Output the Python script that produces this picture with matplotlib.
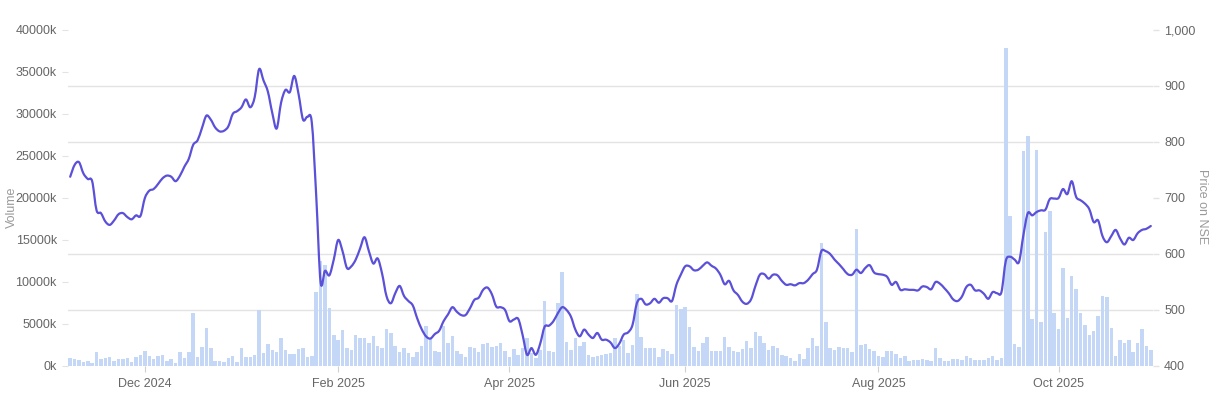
import numpy as np
import pandas as pd
import matplotlib
matplotlib.use("Agg")
import matplotlib.pyplot as plt
from matplotlib.ticker import FixedLocator
from matplotlib.path import Path
from matplotlib.patches import PathPatch

plt.rcParams["font.family"] = ["Liberation Sans", "DejaVu Sans"]

# NSE trading days (weekdays minus exchange holidays, plus the Budget-day Saturday session)
holidays = ["2024-11-15", "2024-11-20", "2024-12-25", "2025-02-26", "2025-03-14",
            "2025-03-31", "2025-04-10", "2025-04-14", "2025-04-18", "2025-05-01",
            "2025-08-15", "2025-08-27", "2025-10-02", "2025-10-22"]
special_sessions = ["2025-02-01"]

# daily volume, thousands of shares
volume = [
    900, 880, 700, 450, 550, 350, 1630, 830, 910, 1110,
    630, 790, 830, 910, 440, 1110, 1350, 1830, 1230, 830,
    1190, 1310, 550, 870, 320, 1710, 950, 1630, 6270, 1110,
    2220, 4480, 2100, 630, 630, 520, 950, 1190, 480, 2100,
    1030, 1110, 1310, 6670, 1550, 2580, 1950, 1630, 3300, 1900,
    1390, 1390, 1980, 2100, 1070, 1190, 8850, 12500, 12000, 6950,
    3700, 3100, 4290, 2100, 1900, 3700, 3300, 3370, 2700, 3570,
    2420, 2100, 4370, 3970, 2420, 1700, 2180, 1500, 1110, 1700,
    2420, 4760, 3300, 1790, 1700, 4760, 2700, 3570, 1790, 1390,
    1030, 2220, 2180, 1630, 2580, 2780, 2220, 2420, 2700, 1790,
    1110, 2020, 1310, 2100, 3300, 1500, 990, 1900, 7740, 1830,
    1700, 7460, 11230, 2820, 1900, 3370, 2420, 2900, 1310, 1110,
    1190, 1310, 1430, 1500, 3370, 2420, 3100, 1590, 2500, 8530,
    3410, 2180, 2100, 2100, 1110, 2020, 1790, 1430, 7260, 6750,
    6990, 4680, 2220, 1830, 2700, 3410, 1790, 1790, 1790, 3500,
    2220, 1830, 1670, 2020, 3020, 2180, 4090, 3530, 2780, 1900,
    2420, 2100, 1310, 1230, 990, 600, 1390, 830, 2180, 3370,
    2420, 14600, 5200, 2100, 1900, 2300, 2180, 2100, 1630, 16300,
    2500, 2580, 1980, 1790, 1230, 1110, 1790, 1790, 1390, 910,
    1230, 600, 710, 710, 790, 710, 600, 2100, 910, 640,
    640, 790, 830, 750, 1190, 910, 750, 710, 710, 910,
    1190, 710, 910, 37900, 17900, 2580, 2300, 25600, 27400, 5560,
    25700, 5280, 15900, 18400, 6270, 4370, 11630, 5760, 10760, 9130,
    6270, 4880, 3690, 4200, 5950, 8370, 8170, 4490, 1190, 3100,
    2780, 3100, 1630, 2700, 4370, 2420, 1900,
]

# closing price on NSE
price = [
    738, 759, 764, 744, 734, 730, 678, 673, 658, 652,
    660, 671, 673, 666, 662, 669, 668, 700, 713, 716,
    725, 735, 740, 738, 730, 740, 756, 770, 795, 803,
    825, 847, 840, 826, 819, 820, 828, 850, 855, 862,
    876, 862, 880, 930, 910, 890, 852, 824, 870, 893,
    889, 918, 885, 840, 845, 835, 705, 550, 570, 562,
    590, 625, 605, 575, 578, 590, 610, 630, 605, 583,
    592, 565, 525, 512, 530, 543, 525, 516, 508, 485,
    466, 453, 449, 457, 463, 480, 492, 505, 497, 491,
    491, 503, 518, 522, 536, 540, 528, 506, 505, 500,
    480, 483, 484, 455, 420, 432, 420, 440, 470, 472,
    480, 494, 505, 500, 488, 465, 453, 465, 456, 450,
    459, 447, 447, 442, 432, 440, 456, 460, 473, 512,
    520, 510, 512, 520, 513, 521, 521, 516, 545, 563,
    578, 578, 571, 572, 579, 585, 579, 574, 563, 546,
    552, 535, 527, 515, 511, 519, 543, 563, 564, 556,
    563, 562, 552, 545, 546, 544, 548, 548, 554, 564,
    572, 605, 605, 600, 590, 582, 573, 564, 563, 572,
    566, 575, 580, 567, 564, 563, 559, 545, 550, 536,
    537, 536, 536, 535, 542, 541, 537, 550, 547, 539,
    530, 519, 516, 524, 541, 545, 535, 535, 529, 520,
    532, 530, 532, 588, 595, 590, 586, 634, 673, 669,
    675, 678, 679, 698, 699, 700, 716, 707, 730, 702,
    696, 690, 680, 657, 660, 632, 621, 632, 643, 628,
    617, 629, 625, 637, 643, 645, 650,
]

vol_ticks = list(range(0, 40001, 5000))
price_ticks = list(range(400, 1001, 100))
tick_months = ["2024-12", "2025-02", "2025-04", "2025-06", "2025-08", "2025-10"]


def smooth_path(x, y):
    # catmull-rom through every point, drawn as cubic bezier segments
    pts = np.column_stack([x, y]).astype(float)
    ext = np.vstack([pts[0], pts, pts[-1]])
    verts = [pts[0]]
    codes = [Path.MOVETO]
    for i in range(len(pts) - 1):
        p0, p1, p2, p3 = ext[i], ext[i + 1], ext[i + 2], ext[i + 3]
        verts += [p1 + (p2 - p0) / 6, p2 - (p3 - p1) / 6, p2]
        codes += [Path.CURVE4] * 3
    return Path(verts, codes)


dates = pd.bdate_range("2024-11-05", "2025-11-03", freq="C", holidays=holidays)
dates = dates.union(pd.to_datetime(special_sessions))
n = min(len(dates), len(volume), len(price))
dates = dates[:n]
idx = np.arange(n)

GREY_TXT = "#666666"
GREY_LBL = "#9a9a9a"
GRID = "#e3e3e3"

fig = plt.figure(figsize=(12.13, 3.95), dpi=100)
ax = fig.add_axes([68 / 1213, 29 / 395, 1085 / 1213, 336 / 395])

ax.bar(idx, volume[:n], width=0.8, color="#c4d7f7", zorder=2)
ax.set_xlim(-0.5, n - 0.5)
ax.set_ylim(0, 40000)
ax.set_yticks(vol_ticks)
ax.set_yticklabels([f"{v}k" for v in vol_ticks])

# horizontal grid follows the price axis
vmin, vmax = price_ticks[0], price_ticks[-1]
ax.yaxis.set_minor_locator(FixedLocator([(p - vmin) / (vmax - vmin) * 40000 for p in price_ticks]))
ax.grid(axis="y", which="minor", color=GRID, lw=1, zorder=0)
ax.tick_params(axis="y", which="minor", length=0)
ax.set_axisbelow(True)

# month ticks at first trading day of month
tick_pos, tick_lab = [], []
for m in tick_months:
    first = np.where(dates.strftime("%Y-%m") == m)[0]
    if len(first):
        tick_pos.append(first[0])
        tick_lab.append(pd.Timestamp(m + "-01").strftime("%b %Y"))
ax.set_xticks(tick_pos)
ax.set_xticklabels(tick_lab)

ax.tick_params(axis="y", which="major", length=4.5, width=0.8, color=GRID, pad=3.5,
               labelsize=9, labelcolor=GREY_TXT)
ax.tick_params(axis="x", length=4.5, width=0.8, color="#d0d0d0", pad=4,
               labelsize=9, labelcolor=GREY_TXT)
for s in ax.spines.values():
    s.set_visible(False)

ax2 = ax.twinx()
ax2.set_ylim(vmin, vmax)
ax2.add_patch(PathPatch(smooth_path(idx, price[:n]), facecolor="none",
                        edgecolor="#5b50d8", lw=1.6, capstyle="round",
                        joinstyle="round", zorder=3))
ax2.set_yticks(price_ticks)
ax2.set_yticklabels([f"{p:,}" for p in price_ticks])
ax2.tick_params(axis="y", length=4, width=1, color=GRID, pad=4,
                labelsize=9, labelcolor=GREY_TXT)
for s in ax2.spines.values():
    s.set_visible(False)

fig.text(12 / 1213, 1 - 207 / 395, "Volume", rotation=90, ha="center", va="center",
         fontsize=9, color=GREY_LBL)
fig.text(1202 / 1213, 1 - 207 / 395, "Price on NSE", rotation=270, ha="center", va="center",
         fontsize=9, color=GREY_LBL)

fig.savefig("out.png", dpi=100)
plt.close(fig)
